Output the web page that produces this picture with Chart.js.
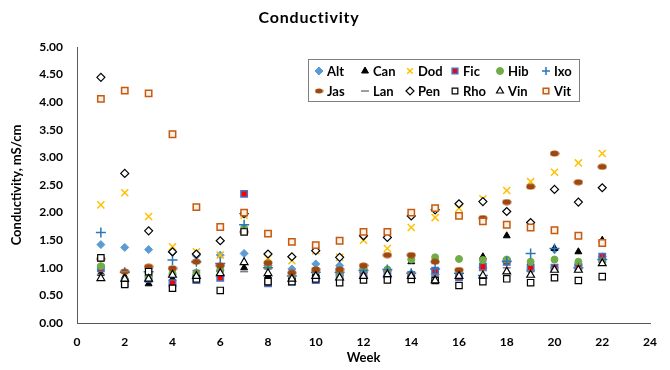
<!DOCTYPE html>
<html>
<head>
<meta charset="utf-8">
<script src="https://cdn.jsdelivr.net/npm/chart.js@4.4.1/dist/chart.umd.min.js"></script>
<style>
  body { margin: 0; background: #fff; }
  #wrap { width: 670px; height: 370px; }
</style>
</head>
<body>
<div id="wrap"><canvas id="condChart" width="670" height="370"></canvas></div>
<script>
// ================= DATA =================
const weeks = [1, 2, 3, 4, 5, 6, 7, 8, 9, 10, 11, 12, 13, 14, 15, 16, 17, 18, 19, 20, 21, 22];
const yTicks = [0, 0.5, 1, 1.5, 2, 2.5, 3, 3.5, 4, 4.5, 5];

const alt = [1.42, 1.37, 1.33, 1.28, 1.22, 1.23, 1.26, 1.04, 0.98, 1.07, 1.04, 0.98, 0.95, 0.90, 0.88, 0.85, 1.00, 1.10, 0.95, 1.33, 1.05, 1.20];
const can = [0.90, 0.84, 0.71, 0.80, 0.91, 0.96, 1.00, 0.85, 0.78, 0.90, 0.89, 0.95, 0.97, 1.11, 0.80, 0.83, 1.20, 1.58, 1.10, 1.35, 1.29, 1.50];
const dod = [2.14, 2.36, 1.93, 1.38, 1.29, 1.23, 1.95, 1.17, 1.13, 1.31, 1.19, 1.50, 1.35, 1.73, 1.91, 2.08, 2.25, 2.40, 2.56, 2.73, 2.90, 3.07];
const fic = [0.99, 0.72, 0.80, 0.72, 0.78, 0.82, 2.34, 0.72, 0.75, 0.78, 0.84, 0.90, 0.87, 0.87, 0.95, 0.83, 1.02, 1.11, 0.99, 1.00, 1.02, 1.20];
const hib = [1.03, 0.78, 0.85, 0.90, 0.91, 0.96, 1.72, 1.02, 0.81, 0.95, 0.89, 0.98, 0.97, 1.15, 1.19, 1.16, 1.14, 1.15, 1.11, 1.15, 1.11, 1.12];
const ixo = [1.64, 0.92, 0.93, 1.14, 1.11, 1.08, 1.78, 1.00, 0.85, 0.92, 0.92, 0.95, 0.97, 0.90, 0.98, 0.90, 0.86, 1.12, 1.26, 1.35, 1.00, 1.15];
const jas = [1.16, 0.93, 1.02, 0.99, 1.11, 1.04, 1.65, 1.09, 0.91, 0.97, 0.97, 1.04, 1.23, 1.23, 1.11, 0.96, 1.90, 2.19, 2.47, 3.07, 2.55, 2.83];
const lan = [0.88, 0.93, 0.90, 0.87, 0.95, 0.95, 0.93, 0.98, 0.85, 0.90, 0.90, 0.92, 0.95, 0.90, 0.85, 0.85, 0.95, 1.00, 0.95, 1.00, 1.00, 1.10];
const pen = [4.45, 2.71, 1.67, 1.29, 1.25, 1.49, 1.98, 1.25, 1.20, 1.31, 1.19, 1.58, 1.55, 1.94, 2.05, 2.16, 2.20, 2.02, 1.82, 2.42, 2.19, 2.45];
const rho = [1.18, 0.70, 0.93, 0.63, 0.80, 0.59, 1.65, 0.75, 0.75, 0.80, 0.73, 0.78, 0.78, 0.79, 0.77, 0.68, 0.75, 0.80, 0.73, 0.82, 0.77, 0.84];
const vin = [0.81, 0.80, 0.80, 0.87, 0.85, 0.90, 1.10, 0.90, 0.80, 0.85, 0.82, 0.85, 0.88, 0.85, 0.77, 0.85, 0.86, 0.93, 0.87, 0.96, 0.96, 1.08];
const vit = [4.06, 4.21, 4.16, 3.42, 2.10, 1.74, 2.00, 1.62, 1.47, 1.41, 1.49, 1.65, 1.65, 2.00, 2.08, 1.94, 1.84, 1.78, 1.73, 1.68, 1.58, 1.45];

const FONT = "Lato, 'Open Sans', sans-serif";

// brown ellipse marker for Jas
function ellipseMarker(w, h) {
  const c = document.createElement("canvas");
  c.width = w; c.height = h;
  const g = c.getContext("2d");
  g.fillStyle = "#9E480E";
  g.beginPath();
  g.ellipse(w / 2, h / 2, w / 2 - 0.5, h / 2 - 0.5, 0, 0, Math.PI * 2);
  g.fill();
  return c;
}
const jasMarker = ellipseMarker(10, 7);
const jasLegend = ellipseMarker(9, 6);

// ================= SERIES =================
const series = [
  { label: "Alt", data: alt, pointStyle: "rectRot", radius: 4,   bg: "#5B9BD5", border: "#5B9BD5", bw: 1 },
  { label: "Can", data: can, pointStyle: "triangle", radius: 4,  bg: "#000000", border: "#000000", bw: 1 },
  { label: "Dod", data: dod, pointStyle: "crossRot", radius: 5,  bg: "#FFC000", border: "#FFC000", bw: 1.5 },
  { label: "Fic", data: fic, pointStyle: "rect", radius: 4.5,    bg: "#FF0000", border: "#4472C4", bw: 1.5 },
  { label: "Hib", data: hib, pointStyle: "circle", radius: 3.5,  bg: "#70AD47", border: "#70AD47", bw: 1 },
  { label: "Ixo", data: ixo, pointStyle: "cross", radius: 5,     bg: "#2E75B6", border: "#2E75B6", bw: 1.5 },
  { label: "Jas", data: jas, pointStyle: jasMarker, radius: 5,   bg: "#9E480E", border: "#9E480E", bw: 1 },
  { label: "Lan", data: lan, pointStyle: "line", radius: 4,      bg: "#7F7F7F", border: "#7F7F7F", bw: 1.5 },
  { label: "Pen", data: pen, pointStyle: "rectRot", radius: 4,   bg: "#FFFFFF", border: "#000000", bw: 1.2 },
  { label: "Rho", data: rho, pointStyle: "rect", radius: 4.5,    bg: "#FFFFFF", border: "#000000", bw: 1.2 },
  { label: "Vin", data: vin, pointStyle: "triangle", radius: 4.5, bg: "#FFFFFF", border: "#000000", bw: 1.2 },
  { label: "Vit", data: vit, pointStyle: "rect", radius: 4.5,    bg: "#FDF1E8", border: "#C55A11", bw: 1.5 }
];

const datasets = series.map((s, i) => ({
  label: s.label,
  data: weeks.map((w, j) => ({ x: w, y: s.data[j] })),
  showLine: false,
  pointStyle: s.pointStyle,
  pointRadius: s.radius,
  pointHoverRadius: s.radius,
  pointBackgroundColor: s.bg,
  pointBorderColor: s.border,
  pointBorderWidth: s.bw,
  order: series.length - i // later series drawn on top
}));

// ================= TITLE + LEGEND PLUGIN =================
const overlay = {
  id: "overlay",
  afterDraw(chart) {
    const ctx = chart.ctx;
    ctx.save();
    ctx.fillStyle = "#000";
    ctx.font = "bold 16px " + FONT;
    ctx.letterSpacing = "0.8px";
    ctx.textAlign = "center";
    ctx.textBaseline = "middle";
    ctx.fillText("Conductivity", 309, 18);
    ctx.letterSpacing = "0px";

    // legend box
    ctx.strokeStyle = "#7F7F7F";
    ctx.lineWidth = 1;
    ctx.fillStyle = "#fff";
    ctx.fillRect(308.5, 59.5, 271, 42);
    ctx.strokeRect(308.5, 59.5, 271, 42);

    const colX = [319, 365, 410, 455, 500, 546];
    const rowY = [71, 91];
    series.forEach((s, i) => {
      const cx = colX[i % 6];
      const cy = rowY[Math.floor(i / 6)];
      ctx.fillStyle = s.bg;
      ctx.strokeStyle = s.border;
      ctx.lineWidth = s.bw;
      Chart.helpers.drawPoint(ctx, {
        pointStyle: s.label === "Jas" ? jasLegend : s.pointStyle,
        radius: Math.min(s.radius, 4),
        rotation: 0,
        borderWidth: s.bw
      }, cx, cy);
      ctx.fillStyle = "#000";
      ctx.font = "bold 13px " + FONT;
      ctx.textAlign = "left";
      ctx.textBaseline = "middle";
      ctx.fillText(s.label, cx + 8, cy + 1);
    });
    ctx.restore();
  }
};

// ================= CHART =================
new Chart(document.getElementById("condChart"), {
  type: "scatter",
  data: { datasets: datasets },
  options: {
    responsive: false,
    animation: false,
    layout: { padding: { top: 47, right: 20, left: 0, bottom: 0 } },
    plugins: {
      legend: { display: false },
      title: { display: false },
      tooltip: { enabled: false }
    },
    scales: {
      x: {
        type: "linear",
        min: 0,
        max: 24,
        afterFit: s => { s.height = 47; },
        grid: { display: false, drawTicks: false },
        border: { display: true, color: "#595959", width: 1 },
        ticks: { stepSize: 2, padding: 12, color: "#000", font: { family: FONT, size: 12, weight: "bold" } },
        title: { display: true, text: "Week", color: "#000", padding: { top: 0, bottom: 4 }, font: { family: FONT, size: 13, weight: "bold" } }
      },
      y: {
        min: 0,
        max: 5,
        afterFit: s => { s.width = 77; },
        afterBuildTicks: s => { s.ticks = yTicks.map(v => ({ value: v })); },
        grid: { display: false, drawTicks: false },
        border: { display: true, color: "#595959", width: 1 },
        ticks: { padding: 14, color: "#000", font: { family: FONT, size: 12, weight: "bold" }, callback: v => v.toFixed(2) },
        title: { display: true, text: "Conductivity, mS/cm", color: "#000", padding: { top: 9, bottom: 0 }, font: { family: FONT, size: 13, weight: "bold" } }
      }
    }
  },
  plugins: [overlay]
});
</script>
</body>
</html>
